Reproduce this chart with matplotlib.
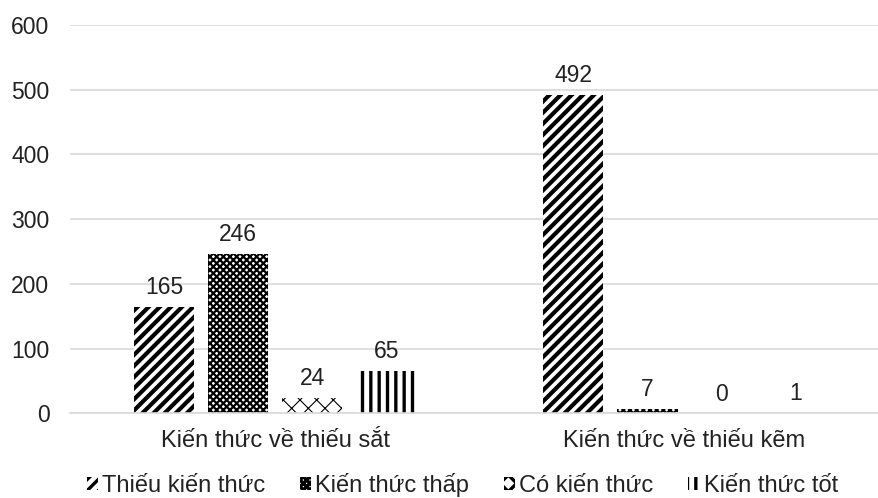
import numpy as np
import matplotlib.pyplot as plt

plt.rcParams['font.family'] = ['Liberation Sans', 'DejaVu Sans']

groups = ['Kiến thức về thiếu sắt', 'Kiến thức về thiếu kẽm']
series = ['Thiếu kiến thức', 'Kiến thức thấp', 'Có kiến thức', 'Kiến thức tốt']
values = [
    [165, 492],
    [246, 7],
    [24, 0],
    [65, 1],
]
hatches = ['///', 'xxxxx', 'xx', '||']
hatch_lw = [3.0, 1.6, 0.8, 2.4]

fig = plt.figure(figsize=(8.79, 4.98), dpi=100)
ax = fig.add_axes([0.08, 0.17, 0.92, 0.78])

x = np.arange(len(groups))
w = 0.147
step = 0.181
for i, (name, vals) in enumerate(zip(series, values)):
    pos = x + (i - 1.5) * step
    plt.rcParams['hatch.linewidth'] = hatch_lw[i]
    ax.bar(pos, vals, w, color='white', edgecolor='black',
           hatch=hatches[i], linewidth=0, label=name)
    for p, v in zip(pos, vals):
        ax.text(p, v + 12, str(v), ha='center', va='bottom', fontsize=16.5, color='#222222')

ax.set_ylim(0, 600)
ax.set_xlim(-0.5, 1.475)
ax.set_yticks(range(0, 601, 100))
ax.tick_params(axis='y', labelsize=16.5, length=0, pad=15, labelcolor='#222222')
ax.tick_params(axis='x', labelsize=17, length=0, pad=12, labelcolor='#222222')
ax.set_xticks(x)
ax.set_xticklabels(groups)
ax.grid(axis='y', color='#d9d9d9', linewidth=1.2)
ax.set_axisbelow(True)
for s in ['top', 'right', 'left']:
    ax.spines[s].set_visible(False)
ax.spines['bottom'].set_color('#d9d9d9')
ax.spines['bottom'].set_linewidth(1.2)

fig.legend(loc='lower center', bbox_to_anchor=(0.526, -0.04), ncol=4, frameon=False,
           fontsize=17, handlelength=0.47, handleheight=0.47, handletextpad=0.17,
           columnspacing=1.48, labelcolor='#222222')

fig.savefig('out.png', dpi=100)
